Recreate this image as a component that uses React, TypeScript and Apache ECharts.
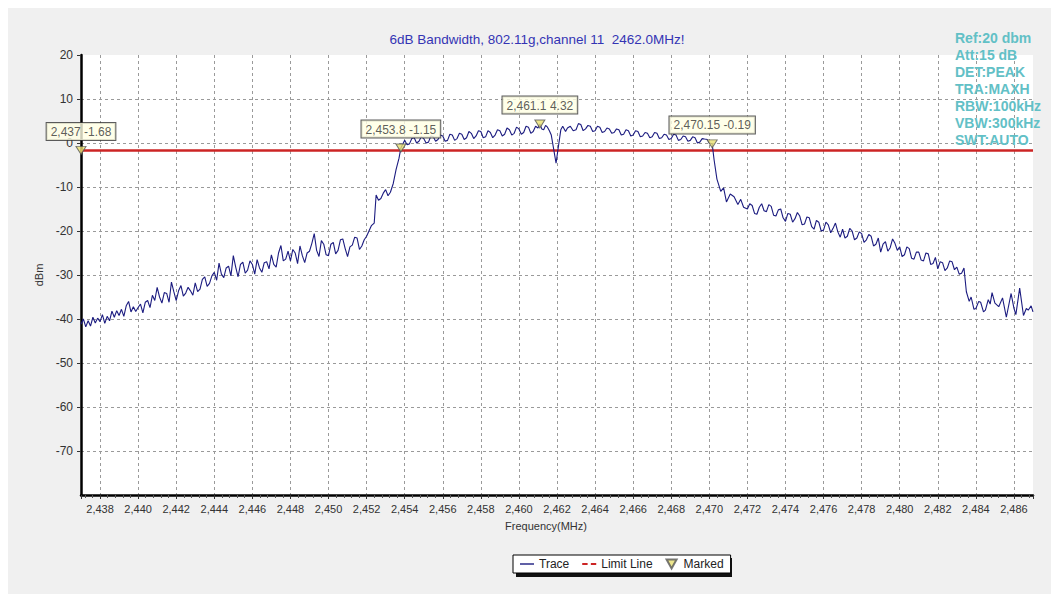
import React, { useEffect, useRef } from 'react';
import * as echarts from 'echarts';

const titleText = '6dB Bandwidth, 802.11g,channel 11  2462.0MHz!';
const infoLines = ['Ref:20 dbm', 'Att:15 dB', 'DET:PEAK', 'TRA:MAXH', 'RBW:100kHz', 'VBW:300kHz', 'SWT:AUTO'];
const freqMin = 2437;
const freqMax = 2487;
const dbmMin = -80;
const dbmMax = 20;
const dbmStep = 10;
const limitLevel = -1.68;
const markerFreqs = [2437, 2453.8, 2461.1, 2470.15];
const markerLevels = [-1.68, -1.15, 4.32, -0.19];
const xAxisName = 'Frequency(MHz)';
const yAxisName = 'dBm';

// trace levels, sweep grid of 0.125 MHz (dBm)
const lowSideStart = 2437;
const lowSideLevels = [
  -41.2, -40.0, -41.8, -40.4, -41.6, -39.6, -40.9, -39.8,
  -40.6, -39.0, -41.0, -39.4, -40.4, -38.2, -39.6, -38.1,
  -39.2, -37.8, -39.4, -37.0, -36.0, -38.4, -37.2, -38.3,
  -37.4, -36.6, -38.6, -36.2, -35.8, -37.4, -34.6, -35.8,
  -32.8, -35.0, -36.4, -34.0, -34.2, -36.2, -31.6, -33.8,
  -35.8, -33.6, -32.4, -34.8, -34.1, -32.8, -33.6, -34.6,
  -31.8, -33.8, -33.2, -31.0, -30.4, -32.6, -31.9, -30.2,
  -29.4, -31.2, -27.3, -29.8, -30.6, -28.4, -28.0, -30.2,
  -25.6, -28.2, -30.4, -27.6, -27.1, -29.6, -28.9, -26.8,
  -27.6, -29.8, -26.5, -28.4, -29.4, -27.2, -27.0, -28.6,
  -25.4, -27.6, -28.2, -25.0, -23.3, -26.8, -26.4, -24.6,
  -26.8, -24.2, -25.0, -27.4, -23.4, -25.6, -27.2, -25.0,
  -24.6, -22.8, -20.6, -24.4, -25.8, -22.2, -23.0, -25.4,
  -25.6, -23.0, -22.6, -25.2, -24.4, -22.0, -21.8, -24.0,
  -25.8, -23.6, -23.2, -21.4, -21.6, -24.2, -23.4, -22.0,
  -21.2, -20.0, -18.8,
];
// rising edge, read point by point: [MHz, dBm]
const risingEdge: [number, number][] = [
  [2452.4, -18.2], [2452.5, -11.8], [2452.625, -13.0], [2452.75, -12.6], [2452.875, -11.4],
  [2453.0, -10.6], [2453.125, -12.0], [2453.25, -11.2], [2453.4, -9.2], [2453.55, -6.0],
  [2453.7, -3.5], [2453.8, -1.15],
];
const inBandStart = 2454;
const inBandLevels = [
  0.6, -0.4, -0.2, 1.0, 1.2, 0.0, 0.4, 1.4,
  1.0, 0.0, 0.2, 1.6, 1.4, 0.4, 0.8, 1.8,
  1.6, 0.4, 0.6, 2.0, 1.8, 0.6, 1.0, 2.2,
  2.0, 0.8, 1.2, 2.6, 2.2, 1.0, 1.6, 2.8,
  2.6, 1.2, 1.4, 2.8, 2.4, 1.2, 1.8, 3.0,
  2.8, 1.6, 2.0, 3.4, 3.0, 1.8, 2.2, 3.6,
  3.2, 2.0, 2.4, 3.8, 3.6, 2.2, 2.6, 3.8,
];
// centre notch, read point by point
const centreNotch: [number, number][] = [
  [2461.0, 3.4], [2461.1, 4.32], [2461.2, 3.2], [2461.3, 3.0], [2461.4, 4.0], [2461.5, 3.6],
  [2461.6, 2.8], [2461.7, 1.8], [2461.85, -2.0], [2461.95, -4.6], [2462.05, -1.5],
  [2462.2, 3.0], [2462.3, 3.8], [2462.45, 2.6], [2462.55, 3.4], [2462.7, 3.8], [2462.85, 2.8],
];
const upperBandStart = 2463;
const upperBandLevels = [
  3.0, 4.4, 4.2, 2.8, 3.2, 4.0, 3.8, 2.6,
  2.8, 3.8, 3.6, 2.4, 2.6, 3.4, 3.2, 2.2,
  2.4, 3.2, 3.0, 1.8, 2.0, 3.0, 2.8, 1.6,
  1.8, 2.8, 2.6, 1.4, 1.6, 2.4, 2.2, 1.2,
  1.4, 2.4, 2.2, 1.0, 1.2, 2.0, 1.8, 0.8,
  1.0, 2.0, 1.8, 0.6, 0.8, 1.6, 1.4, 0.4,
  0.6, 1.4, 1.2, 0.0, 0.2, 1.0, 0.9,
];
// falling edge, read point by point
const fallingEdge: [number, number][] = [
  [2469.9, 0.8], [2470.0, 0.0], [2470.15, -0.19], [2470.25, -3.8], [2470.4, -8.2],
  [2470.6, -11.0], [2470.75, -10.2], [2470.9, -13.4], [2471.1, -11.6], [2471.3, -12.2],
  [2471.5, -14.0], [2471.65, -12.8], [2471.8, -14.6],
];
const highSideStart = 2472;
const highSideLevels = [
  -15.0, -13.8, -14.2, -16.0, -16.2, -14.6, -13.8, -15.4,
  -15.6, -14.0, -14.4, -16.4, -16.6, -15.2, -15.0, -17.0,
  -17.8, -16.0, -16.2, -18.0, -17.2, -15.8, -16.6, -18.6,
  -18.4, -16.8, -17.0, -19.0, -19.6, -17.6, -18.0, -20.0,
  -19.8, -18.0, -18.6, -20.4, -19.4, -18.2, -20.2, -21.4,
  -19.6, -21.6, -21.2, -19.4, -20.0, -22.0, -21.6, -20.2,
  -20.6, -22.6, -22.0, -20.8, -21.2, -23.4, -23.0, -21.6,
  -24.8, -23.0, -22.4, -24.6, -23.8, -21.8, -22.8, -24.4,
  -23.6, -25.8, -25.4, -23.6, -24.0, -26.2, -26.4, -24.8,
  -24.8, -26.6, -26.8, -25.0, -25.2, -27.6, -27.4, -26.0,
  -28.6, -27.0, -27.2, -29.0, -28.4, -26.8, -27.0, -28.8,
  -28.2, -29.8, -29.6, -28.4,
];
// band-edge drop and noise floor, read point by point
const tailEnd: [number, number][] = [
  [2483.5, -33.8], [2483.65, -36.0], [2483.75, -35.0], [2483.9, -37.8],
  [2484.0, -37.6], [2484.15, -36.0], [2484.25, -36.2], [2484.4, -38.4], [2484.5, -38.0],
  [2484.65, -35.6], [2484.75, -36.6], [2484.85, -34.0], [2485.0, -36.4], [2485.2, -37.2],
  [2485.4, -35.2], [2485.6, -39.6], [2485.85, -34.2], [2486.0, -37.6], [2486.1, -39.0],
  [2486.3, -33.0], [2486.5, -39.2], [2486.65, -37.6], [2486.75, -38.0], [2486.9, -37.0],
  [2487.0, -38.4],
];
const sweepStep = 0.125;

const FONT = '"Liberation Sans", Arial, sans-serif';

const fmtFreq = (f: number) => f.toLocaleString('en-US', { maximumFractionDigits: 2 });

const onGrid = (start: number, levels: number[]): [number, number][] =>
  levels.map((v, i) => [start + i * sweepStep, v]);

const traceData: [number, number][] = [
  ...onGrid(lowSideStart, lowSideLevels),
  ...risingEdge,
  ...onGrid(inBandStart, inBandLevels),
  ...centreNotch,
  ...onGrid(upperBandStart, upperBandLevels),
  ...fallingEdge,
  ...onGrid(highSideStart, highSideLevels),
  ...tailEnd,
];

export default function App() {
  const ref = useRef<HTMLDivElement>(null);

  useEffect(() => {
    if (!ref.current) return;
    const chart = echarts.init(ref.current, null, { renderer: 'svg' });
    const markerData = markerFreqs.map((f, i) => [f, markerLevels[i]]);
    chart.setOption({
      animation: false,
      backgroundColor: '#f0f0f0',
      textStyle: { fontFamily: FONT },
      title: [
        {
          text: titleText,
          left: 529,
          top: 24,
          textAlign: 'center',
          padding: 0,
          textStyle: { fontSize: 13.5, fontWeight: 'normal', color: '#3434b4', fontFamily: FONT },
        },
        {
          text: infoLines.join('\n'),
          left: 947,
          top: 21,
          padding: 0,
          textStyle: { fontSize: 14, fontWeight: 'bold', color: '#62c0c6', lineHeight: 17, fontFamily: FONT },
        },
      ],
      grid: {
        left: 73,
        right: 26,
        top: 47,
        bottom: 99,
        show: true,
        backgroundColor: '#ffffff',
        borderWidth: 0,
      },
      legend: {
        left: 505,
        top: 547,
        padding: [3, 7],
        itemGap: 13,
        itemWidth: 14,
        itemHeight: 9,
        symbolKeepAspect: true,
        backgroundColor: '#ffffff',
        borderColor: '#000000',
        borderWidth: 1,
        borderRadius: 0,
        textStyle: { fontSize: 12, color: '#222', fontFamily: FONT },
        data: [
          { name: 'Trace', icon: 'path://M0,0 L14,0 L14,1.4 L0,1.4 Z' },
          { name: 'Limit Line', icon: 'path://M0,0 L5,0 L5,2 L0,2 Z M8,0 L13,0 L13,2 L8,2 Z' },
          { name: 'Marked', icon: 'path://M0,0 L10,0 L5,9 Z' },
        ],
      },
      graphic: [
        {
          type: 'rect',
          left: 508,
          top: 550,
          z: -1,
          shape: { width: 216, height: 19 },
          style: { fill: '#111' },
        },
      ],
      xAxis: {
        type: 'value',
        min: freqMin,
        max: freqMax,
        splitNumber: 25,
        name: xAxisName,
        nameLocation: 'middle',
        nameGap: 25,
        nameTextStyle: { fontSize: 11, color: '#333', padding: [0, 22, 0, 0], fontFamily: FONT },
        axisLine: { show: true, onZero: false, lineStyle: { color: '#000', width: 2.5 } },
        axisTick: { show: true, length: 4, lineStyle: { color: '#333' } },
        minorTick: { show: true, splitNumber: 5, length: 3, lineStyle: { color: '#555' } },
        axisLabel: {
          fontSize: 11,
          color: '#333',
          margin: 8,
          showMinLabel: false,
          showMaxLabel: false,
          formatter: (v: number) => fmtFreq(v),
          fontFamily: FONT,
        },
        splitLine: {
          show: true,
          showMinLine: false,
          showMaxLine: false,
          lineStyle: { color: '#9a9a9a', type: [3, 3], width: 1 },
        },
      },
      yAxis: {
        type: 'value',
        min: dbmMin,
        max: dbmMax,
        interval: dbmStep,
        name: yAxisName,
        nameLocation: 'middle',
        nameGap: 21,
        nameTextStyle: { fontSize: 11, color: '#333', fontFamily: FONT },
        axisLine: { show: true, onZero: false, lineStyle: { color: '#000', width: 2.5 } },
        axisTick: { show: true, length: 4, lineStyle: { color: '#333' } },
        axisLabel: { fontSize: 12, color: '#333', margin: 8, showMinLabel: false, fontFamily: FONT },
        splitLine: {
          show: true,
          showMinLine: false,
          showMaxLine: false,
          lineStyle: { color: '#9a9a9a', type: [3, 3], width: 1 },
        },
      },
      series: [
        {
          name: 'Limit Line',
          type: 'line',
          symbol: 'none',
          data: [[freqMin, limitLevel], [freqMax, limitLevel]],
          lineStyle: { color: '#cc2424', width: 2.5 },
          itemStyle: { color: '#cc2424' },
          z: 2,
        },
        {
          name: 'Trace',
          type: 'line',
          symbol: 'none',
          data: traceData,
          lineStyle: { color: '#1c1c80', width: 1.1 },
          itemStyle: { color: '#1c1c80' },
          z: 3,
        },
        {
          name: 'Marked',
          type: 'scatter',
          symbol: 'triangle',
          symbolRotate: 180,
          symbolSize: [10, 8],
          clip: false,
          data: markerData,
          itemStyle: { color: '#e8e070', borderColor: '#555', borderWidth: 1 },
          z: 5,
          label: {
            show: true,
            position: 'top',
            distance: 6,
            formatter: (p: any) => `${fmtFreq(p.value[0])} ${p.value[1]}`,
            backgroundColor: '#ffffe4',
            borderColor: '#333',
            borderWidth: 1,
            padding: [3, 4, 2, 4],
            fontSize: 12,
            color: '#333',
            fontFamily: FONT,
          },
        },
      ],
    });
    return () => chart.dispose();
  }, []);

  return <div ref={ref} style={{ width: 1051, height: 586 }} />;
}
